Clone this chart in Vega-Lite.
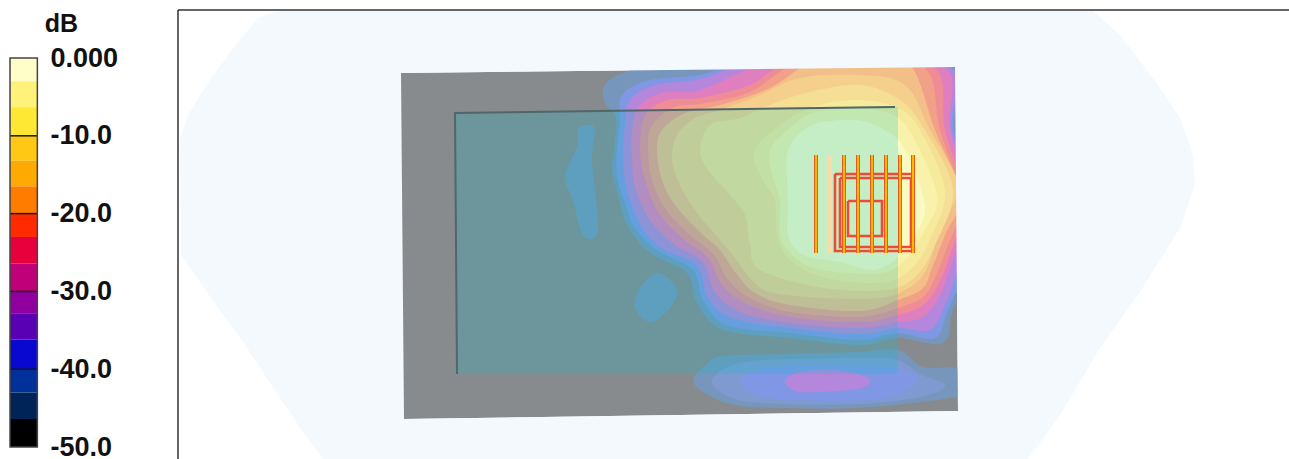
{"$schema":"https://vega.github.io/schema/vega-lite/v6.json","padding":0,"spacing":137,"bounds":"flush","background":"#ffffff","config":{"view":{"stroke":null}},
"datasets":{
"bands":[{"top":0,"bottom":-3,"c":"#fffdc8"},{"top":-3,"bottom":-6.33,"c":"#fff27a"},{"top":-6.33,"bottom":-10,"c":"#ffe833"},{"top":-10,"bottom":-13.2,"c":"#ffc814"},{"top":-13.2,"bottom":-16.5,"c":"#ffaa00"},{"top":-16.5,"bottom":-20,"c":"#ff7c00"},{"top":-20,"bottom":-23,"c":"#ff2a00"},{"top":-23,"bottom":-26.4,"c":"#e8003c"},{"top":-26.4,"bottom":-30,"c":"#c00078"},{"top":-30,"bottom":-32.8,"c":"#9000a0"},{"top":-32.8,"bottom":-36.2,"c":"#5a00b4"},{"top":-36.2,"bottom":-40,"c":"#0808d0"},{"top":-40,"bottom":-43,"c":"#00309a"},{"top":-43,"bottom":-46.4,"c":"#002458"},{"top":-46.4,"bottom":-50,"c":"#000000"}],
"base":[
{"s":"hex","b":"bg","x":278,"y":11},{"s":"hex","b":"bg","x":1093,"y":11},{"s":"hex","b":"bg","x":1120,"y":35},{"s":"hex","b":"bg","x":1153,"y":78},{"s":"hex","b":"bg","x":1180,"y":118},{"s":"hex","b":"bg","x":1193,"y":155},{"s":"hex","b":"bg","x":1195,"y":185},{"s":"hex","b":"bg","x":1180,"y":228},{"s":"hex","b":"bg","x":1140,"y":292},{"s":"hex","b":"bg","x":1100,"y":348},{"s":"hex","b":"bg","x":1060,"y":415},{"s":"hex","b":"bg","x":1028,"y":459},{"s":"hex","b":"bg","x":323,"y":459},{"s":"hex","b":"bg","x":305,"y":435},{"s":"hex","b":"bg","x":278,"y":395},{"s":"hex","b":"bg","x":245,"y":345},{"s":"hex","b":"bg","x":211,"y":298},{"s":"hex","b":"bg","x":181,"y":255},{"s":"hex","b":"bg","x":180,"y":138},{"s":"hex","b":"bg","x":188,"y":115},{"s":"hex","b":"bg","x":211,"y":78},{"s":"hex","b":"bg","x":238,"y":42},{"s":"hex","b":"bg","x":258,"y":18},
{"s":"plate","b":"plate","x":401,"y":73},{"s":"plate","b":"plate","x":955,"y":67},{"s":"plate","b":"plate","x":958,"y":411},{"s":"plate","b":"plate","x":404,"y":419}],
"contours":[
{"s":"A1","b":"b1","x":700,"y":60},{"s":"A1","b":"b1","x":640,"y":68},{"s":"A1","b":"b1","x":612,"y":78},{"s":"A1","b":"b1","x":603,"y":90},{"s":"A1","b":"b1","x":606,"y":105},{"s":"A1","b":"b1","x":616,"y":118},{"s":"A1","b":"b1","x":614,"y":150},{"s":"A1","b":"b1","x":612,"y":170},{"s":"A1","b":"b1","x":618,"y":195},{"s":"A1","b":"b1","x":627,"y":225},{"s":"A1","b":"b1","x":650,"y":253},{"s":"A1","b":"b1","x":687,"y":273},{"s":"A1","b":"b1","x":697,"y":303},{"s":"A1","b":"b1","x":723,"y":330},{"s":"A1","b":"b1","x":790,"y":338},{"s":"A1","b":"b1","x":860,"y":345},{"s":"A1","b":"b1","x":898,"y":338},{"s":"A1","b":"b1","x":943,"y":343},{"s":"A1","b":"b1","x":953,"y":310},{"s":"A1","b":"b1","x":972,"y":270},{"s":"A1","b":"b1","x":975,"y":150},{"s":"A1","b":"b1","x":970,"y":62},{"s":"A1","b":"b1","x":850,"y":55},
{"s":"A2","b":"b2","x":745,"y":62},{"s":"A2","b":"b2","x":700,"y":75},{"s":"A2","b":"b2","x":650,"y":80},{"s":"A2","b":"b2","x":622,"y":95},{"s":"A2","b":"b2","x":620,"y":120},{"s":"A2","b":"b2","x":617,"y":150},{"s":"A2","b":"b2","x":617,"y":175},{"s":"A2","b":"b2","x":624,"y":200},{"s":"A2","b":"b2","x":635,"y":228},{"s":"A2","b":"b2","x":657,"y":250},{"s":"A2","b":"b2","x":693,"y":270},{"s":"A2","b":"b2","x":703,"y":300},{"s":"A2","b":"b2","x":727,"y":325},{"s":"A2","b":"b2","x":790,"y":333},{"s":"A2","b":"b2","x":860,"y":340},{"s":"A2","b":"b2","x":898,"y":333},{"s":"A2","b":"b2","x":935,"y":338},{"s":"A2","b":"b2","x":948,"y":310},{"s":"A2","b":"b2","x":968,"y":260},{"s":"A2","b":"b2","x":972,"y":190},{"s":"A2","b":"b2","x":954,"y":130},{"s":"A2","b":"b2","x":953,"y":68},{"s":"A2","b":"b2","x":850,"y":57},
{"s":"A3","b":"b3","x":760,"y":60},{"s":"A3","b":"b3","x":700,"y":79},{"s":"A3","b":"b3","x":655,"y":85},{"s":"A3","b":"b3","x":630,"y":100},{"s":"A3","b":"b3","x":625,"y":125},{"s":"A3","b":"b3","x":623,"y":150},{"s":"A3","b":"b3","x":625,"y":180},{"s":"A3","b":"b3","x":632,"y":205},{"s":"A3","b":"b3","x":645,"y":232},{"s":"A3","b":"b3","x":665,"y":250},{"s":"A3","b":"b3","x":697,"y":265},{"s":"A3","b":"b3","x":708,"y":298},{"s":"A3","b":"b3","x":732,"y":318},{"s":"A3","b":"b3","x":790,"y":328},{"s":"A3","b":"b3","x":860,"y":334},{"s":"A3","b":"b3","x":898,"y":328},{"s":"A3","b":"b3","x":930,"y":330},{"s":"A3","b":"b3","x":945,"y":305},{"s":"A3","b":"b3","x":957,"y":270},{"s":"A3","b":"b3","x":972,"y":195},{"s":"A3","b":"b3","x":952,"y":130},{"s":"A3","b":"b3","x":950,"y":68},{"s":"A3","b":"b3","x":850,"y":58},
{"s":"A4","b":"b4","x":775,"y":60},{"s":"A4","b":"b4","x":700,"y":90},{"s":"A4","b":"b4","x":665,"y":92},{"s":"A4","b":"b4","x":640,"y":105},{"s":"A4","b":"b4","x":632,"y":130},{"s":"A4","b":"b4","x":632,"y":160},{"s":"A4","b":"b4","x":636,"y":190},{"s":"A4","b":"b4","x":650,"y":220},{"s":"A4","b":"b4","x":675,"y":245},{"s":"A4","b":"b4","x":703,"y":262},{"s":"A4","b":"b4","x":715,"y":292},{"s":"A4","b":"b4","x":740,"y":312},{"s":"A4","b":"b4","x":790,"y":323},{"s":"A4","b":"b4","x":860,"y":328},{"s":"A4","b":"b4","x":898,"y":322},{"s":"A4","b":"b4","x":923,"y":317},{"s":"A4","b":"b4","x":940,"y":295},{"s":"A4","b":"b4","x":952,"y":262},{"s":"A4","b":"b4","x":970,"y":200},{"s":"A4","b":"b4","x":950,"y":130},{"s":"A4","b":"b4","x":945,"y":68},{"s":"A4","b":"b4","x":850,"y":58},
{"s":"A5","b":"b5","x":790,"y":62},{"s":"A5","b":"b5","x":750,"y":85},{"s":"A5","b":"b5","x":700,"y":98},{"s":"A5","b":"b5","x":668,"y":100},{"s":"A5","b":"b5","x":645,"y":115},{"s":"A5","b":"b5","x":640,"y":150},{"s":"A5","b":"b5","x":645,"y":180},{"s":"A5","b":"b5","x":658,"y":212},{"s":"A5","b":"b5","x":682,"y":238},{"s":"A5","b":"b5","x":708,"y":258},{"s":"A5","b":"b5","x":722,"y":285},{"s":"A5","b":"b5","x":745,"y":303},{"s":"A5","b":"b5","x":790,"y":317},{"s":"A5","b":"b5","x":860,"y":322},{"s":"A5","b":"b5","x":898,"y":315},{"s":"A5","b":"b5","x":923,"y":305},{"s":"A5","b":"b5","x":938,"y":285},{"s":"A5","b":"b5","x":950,"y":255},{"s":"A5","b":"b5","x":965,"y":200},{"s":"A5","b":"b5","x":945,"y":130},{"s":"A5","b":"b5","x":935,"y":68},{"s":"A5","b":"b5","x":860,"y":58},
{"s":"A6","b":"b6","x":797,"y":63},{"s":"A6","b":"b6","x":750,"y":92},{"s":"A6","b":"b6","x":700,"y":104},{"s":"A6","b":"b6","x":675,"y":107},{"s":"A6","b":"b6","x":652,"y":125},{"s":"A6","b":"b6","x":648,"y":150},{"s":"A6","b":"b6","x":652,"y":180},{"s":"A6","b":"b6","x":666,"y":210},{"s":"A6","b":"b6","x":690,"y":235},{"s":"A6","b":"b6","x":714,"y":255},{"s":"A6","b":"b6","x":728,"y":280},{"s":"A6","b":"b6","x":750,"y":298},{"s":"A6","b":"b6","x":790,"y":312},{"s":"A6","b":"b6","x":860,"y":317},{"s":"A6","b":"b6","x":898,"y":308},{"s":"A6","b":"b6","x":923,"y":297},{"s":"A6","b":"b6","x":935,"y":278},{"s":"A6","b":"b6","x":948,"y":245},{"s":"A6","b":"b6","x":962,"y":200},{"s":"A6","b":"b6","x":940,"y":130},{"s":"A6","b":"b6","x":925,"y":68},{"s":"A6","b":"b6","x":860,"y":60},
{"s":"A7","b":"b7","x":812,"y":62},{"s":"A7","b":"b7","x":770,"y":88},{"s":"A7","b":"b7","x":720,"y":105},{"s":"A7","b":"b7","x":685,"y":113},{"s":"A7","b":"b7","x":662,"y":130},{"s":"A7","b":"b7","x":657,"y":150},{"s":"A7","b":"b7","x":662,"y":180},{"s":"A7","b":"b7","x":675,"y":205},{"s":"A7","b":"b7","x":700,"y":232},{"s":"A7","b":"b7","x":720,"y":250},{"s":"A7","b":"b7","x":735,"y":272},{"s":"A7","b":"b7","x":755,"y":293},{"s":"A7","b":"b7","x":790,"y":305},{"s":"A7","b":"b7","x":860,"y":311},{"s":"A7","b":"b7","x":898,"y":300},{"s":"A7","b":"b7","x":923,"y":288},{"s":"A7","b":"b7","x":932,"y":268},{"s":"A7","b":"b7","x":945,"y":235},{"s":"A7","b":"b7","x":960,"y":195},{"s":"A7","b":"b7","x":935,"y":130},{"s":"A7","b":"b7","x":908,"y":62},{"s":"A7","b":"b7","x":860,"y":58},
{"s":"A8","b":"b8","x":860,"y":75},{"s":"A8","b":"b8","x":800,"y":78},{"s":"A8","b":"b8","x":760,"y":95},{"s":"A8","b":"b8","x":720,"y":110},{"s":"A8","b":"b8","x":695,"y":118},{"s":"A8","b":"b8","x":677,"y":135},{"s":"A8","b":"b8","x":672,"y":160},{"s":"A8","b":"b8","x":680,"y":185},{"s":"A8","b":"b8","x":695,"y":210},{"s":"A8","b":"b8","x":720,"y":240},{"s":"A8","b":"b8","x":735,"y":258},{"s":"A8","b":"b8","x":750,"y":278},{"s":"A8","b":"b8","x":770,"y":292},{"s":"A8","b":"b8","x":823,"y":298},{"s":"A8","b":"b8","x":880,"y":298},{"s":"A8","b":"b8","x":905,"y":290},{"s":"A8","b":"b8","x":925,"y":272},{"s":"A8","b":"b8","x":942,"y":225},{"s":"A8","b":"b8","x":958,"y":185},{"s":"A8","b":"b8","x":930,"y":130},{"s":"A8","b":"b8","x":905,"y":85},
{"s":"A9","b":"b9","x":860,"y":85},{"s":"A9","b":"b9","x":810,"y":92},{"s":"A9","b":"b9","x":770,"y":105},{"s":"A9","b":"b9","x":740,"y":118},{"s":"A9","b":"b9","x":710,"y":125},{"s":"A9","b":"b9","x":700,"y":150},{"s":"A9","b":"b9","x":708,"y":170},{"s":"A9","b":"b9","x":730,"y":195},{"s":"A9","b":"b9","x":745,"y":215},{"s":"A9","b":"b9","x":750,"y":245},{"s":"A9","b":"b9","x":760,"y":270},{"s":"A9","b":"b9","x":823,"y":288},{"s":"A9","b":"b9","x":885,"y":290},{"s":"A9","b":"b9","x":915,"y":277},{"s":"A9","b":"b9","x":935,"y":245},{"s":"A9","b":"b9","x":953,"y":190},{"s":"A9","b":"b9","x":925,"y":130},{"s":"A9","b":"b9","x":900,"y":100},
{"s":"A10","b":"b10","x":860,"y":100},{"s":"A10","b":"b10","x":815,"y":106},{"s":"A10","b":"b10","x":780,"y":125},{"s":"A10","b":"b10","x":755,"y":150},{"s":"A10","b":"b10","x":760,"y":175},{"s":"A10","b":"b10","x":775,"y":200},{"s":"A10","b":"b10","x":777,"y":235},{"s":"A10","b":"b10","x":790,"y":260},{"s":"A10","b":"b10","x":823,"y":277},{"s":"A10","b":"b10","x":880,"y":283},{"s":"A10","b":"b10","x":912,"y":268},{"s":"A10","b":"b10","x":932,"y":235},{"s":"A10","b":"b10","x":945,"y":190},{"s":"A10","b":"b10","x":920,"y":130},{"s":"A10","b":"b10","x":898,"y":108},
{"s":"A11","b":"b11","x":860,"y":108},{"s":"A11","b":"b11","x":815,"y":112},{"s":"A11","b":"b11","x":790,"y":128},{"s":"A11","b":"b11","x":770,"y":150},{"s":"A11","b":"b11","x":772,"y":175},{"s":"A11","b":"b11","x":780,"y":200},{"s":"A11","b":"b11","x":780,"y":235},{"s":"A11","b":"b11","x":795,"y":258},{"s":"A11","b":"b11","x":823,"y":270},{"s":"A11","b":"b11","x":880,"y":273},{"s":"A11","b":"b11","x":905,"y":260},{"s":"A11","b":"b11","x":925,"y":230},{"s":"A11","b":"b11","x":937,"y":195},{"s":"A11","b":"b11","x":912,"y":135},{"s":"A11","b":"b11","x":893,"y":115},
{"s":"A12","b":"b12","x":855,"y":120},{"s":"A12","b":"b12","x":815,"y":124},{"s":"A12","b":"b12","x":795,"y":138},{"s":"A12","b":"b12","x":787,"y":155},{"s":"A12","b":"b12","x":787,"y":180},{"s":"A12","b":"b12","x":788,"y":210},{"s":"A12","b":"b12","x":788,"y":235},{"s":"A12","b":"b12","x":803,"y":255},{"s":"A12","b":"b12","x":840,"y":262},{"s":"A12","b":"b12","x":873,"y":270},{"s":"A12","b":"b12","x":898,"y":258},{"s":"A12","b":"b12","x":915,"y":235},{"s":"A12","b":"b12","x":925,"y":205},{"s":"A12","b":"b12","x":905,"y":150},{"s":"A12","b":"b12","x":885,"y":130},
{"s":"C1","b":"b1","x":693,"y":381},{"s":"C1","b":"b1","x":705,"y":366},{"s":"C1","b":"b1","x":723,"y":356},{"s":"C1","b":"b1","x":790,"y":354},{"s":"C1","b":"b1","x":857,"y":352},{"s":"C1","b":"b1","x":898,"y":350},{"s":"C1","b":"b1","x":923,"y":367},{"s":"C1","b":"b1","x":957,"y":368},{"s":"C1","b":"b1","x":975,"y":380},{"s":"C1","b":"b1","x":965,"y":393},{"s":"C1","b":"b1","x":937,"y":400},{"s":"C1","b":"b1","x":857,"y":408},{"s":"C1","b":"b1","x":780,"y":408},{"s":"C1","b":"b1","x":735,"y":405},{"s":"C1","b":"b1","x":708,"y":395},
{"s":"C2","b":"c2","x":712,"y":382},{"s":"C2","b":"c2","x":722,"y":370},{"s":"C2","b":"c2","x":745,"y":362},{"s":"C2","b":"c2","x":790,"y":359},{"s":"C2","b":"c2","x":860,"y":358},{"s":"C2","b":"c2","x":898,"y":360},{"s":"C2","b":"c2","x":920,"y":374},{"s":"C2","b":"c2","x":945,"y":385},{"s":"C2","b":"c2","x":925,"y":396},{"s":"C2","b":"c2","x":860,"y":404},{"s":"C2","b":"c2","x":760,"y":403},{"s":"C2","b":"c2","x":725,"y":395},
{"s":"C3","b":"b2","x":741,"y":381},{"s":"C3","b":"b2","x":750,"y":372},{"s":"C3","b":"b2","x":775,"y":367},{"s":"C3","b":"b2","x":860,"y":366},{"s":"C3","b":"b2","x":905,"y":370},{"s":"C3","b":"b2","x":916,"y":382},{"s":"C3","b":"b2","x":880,"y":399},{"s":"C3","b":"b2","x":790,"y":400},{"s":"C3","b":"b2","x":752,"y":393},
{"s":"C4","b":"b3","x":785,"y":381},{"s":"C4","b":"b3","x":800,"y":372},{"s":"C4","b":"b3","x":835,"y":370},{"s":"C4","b":"b3","x":868,"y":378},{"s":"C4","b":"b3","x":862,"y":388},{"s":"C4","b":"b3","x":820,"y":392},{"s":"C4","b":"b3","x":795,"y":391},
{"s":"D1","b":"b1","x":587,"y":125},{"s":"D1","b":"b1","x":595,"y":130},{"s":"D1","b":"b1","x":592,"y":160},{"s":"D1","b":"b1","x":598,"y":230},{"s":"D1","b":"b1","x":583,"y":235},{"s":"D1","b":"b1","x":573,"y":200},{"s":"D1","b":"b1","x":565,"y":177},{"s":"D1","b":"b1","x":577,"y":147},{"s":"D1","b":"b1","x":578,"y":130},
{"s":"D2","b":"b1","x":658,"y":273},{"s":"D2","b":"b1","x":677,"y":290},{"s":"D2","b":"b1","x":668,"y":310},{"s":"D2","b":"b1","x":650,"y":322},{"s":"D2","b":"b1","x":635,"y":308},{"s":"D2","b":"b1","x":640,"y":288}],
"mask":[
{"s":"M1","b":"bg","x":401,"y":73},{"s":"M1","b":"bg","x":955,"y":67},{"s":"M1","b":"bg","x":995,"y":67},{"s":"M1","b":"bg","x":995,"y":35},{"s":"M1","b":"bg","x":401,"y":35},
{"s":"M2","b":"bg","x":955,"y":67},{"s":"M2","b":"bg","x":958,"y":411},{"s":"M2","b":"bg","x":995,"y":411},{"s":"M2","b":"bg","x":995,"y":67},
{"s":"M3","b":"bg","x":404,"y":419},{"s":"M3","b":"bg","x":958,"y":411},{"s":"M3","b":"bg","x":995,"y":411},{"s":"M3","b":"bg","x":995,"y":435},{"s":"M3","b":"bg","x":404,"y":435}],
"inner":[{"x":454,"y":113},{"x":898,"y":107},{"x":898,"y":374},{"x":456,"y":374}],
"edges":[{"s":"top","x":454,"y":113},{"s":"top","x":895,"y":107},{"s":"left","x":455,"y":113},{"s":"left","x":457,"y":374}],
"frame":[{"x":178,"x2":1289,"y":10,"y2":10},{"x":178,"x2":178,"y":10,"y2":459}],
"wire":[
{"s":"R1","x":835,"y":174},{"s":"R1","x":913,"y":174},{"s":"R1","x":913,"y":251},{"s":"R1","x":835,"y":251},{"s":"R1","x":835,"y":174},
{"s":"R2","x":840,"y":178},{"s":"R2","x":911,"y":178},{"s":"R2","x":911,"y":247},{"s":"R2","x":840,"y":247},{"s":"R2","x":840,"y":178},
{"s":"R3","x":848,"y":201},{"s":"R3","x":882,"y":201},{"s":"R3","x":882,"y":236},{"s":"R3","x":848,"y":236},{"s":"R3","x":848,"y":201}],
"bars":[{"x":816,"y":155,"y2":253},{"x":844,"y":155,"y2":253},{"x":858,"y":155,"y2":253},{"x":872,"y":155,"y2":253},{"x":886,"y":155,"y2":253},{"x":900,"y":155,"y2":253},{"x":913,"y":155,"y2":253}],
"pale":[{"x":830,"y":155,"y2":253}]
},
"hconcat":[
{"width":41,"height":459,"layer":[
{"data":{"name":"bands"},"mark":{"type":"rect"},"encoding":{"x":{"datum":11,"type":"quantitative","scale":{"domain":[0,41]},"axis":null},"x2":{"datum":41},"y":{"field":"top","type":"quantitative","scale":{"domain":[-51.54,7.455],"nice":false,"zero":false},"axis":{"orient":"right","values":[0,-10,-20,-30,-40,-50],"labelExpr":"datum.value==0?'0.000':'-'+format(-datum.value,'.1f')","ticks":false,"domain":false,"grid":false,"labelPadding":9,"labelFont":"Liberation Sans","labelFontWeight":"bold","labelFontSize":27,"labelColor":"#111111","labelBaseline":"middle","labelLimit":0,"labelOverlap":false,"title":"dB","titleFont":"Liberation Sans","titleFontWeight":"bold","titleFontSize":25,"titleColor":"#111111","titleAngle":0,"titleX":20,"titleY":36,"titleAlign":"center"}},"y2":{"field":"bottom"},"fill":{"field":"c","type":"nominal","scale":null}}},
{"data":{"values":[{"v":-10},{"v":-20},{"v":-30},{"v":-40}]},"mark":{"type":"rule","stroke":"#151515","strokeWidth":1.5},"encoding":{"x":{"datum":11,"type":"quantitative"},"x2":{"datum":41},"y":{"field":"v","type":"quantitative"}}},
{"data":{"values":[{"a":0,"b":-50}]},"mark":{"type":"rect","fill":null,"stroke":"#444444","strokeWidth":1.5},"encoding":{"x":{"datum":11,"type":"quantitative"},"x2":{"datum":41},"y":{"field":"a","type":"quantitative"},"y2":{"field":"b"}}}
]},
{"width":1111,"height":459,
"encoding":{"x":{"field":"x","type":"quantitative","scale":{"domain":[178,1289],"nice":false,"zero":false},"axis":null},"y":{"field":"y","type":"quantitative","scale":{"domain":[0,459],"reverse":true,"nice":false,"zero":false},"axis":null}},
"layer":[
{"data":{"name":"base"},"mark":{"type":"line","filled":true,"order":null,"strokeWidth":0},"encoding":{"detail":{"field":"s"},"fill":{"field":"b","type":"nominal","legend":null,"scale":{"domain":["bg","plate","b1","c2","b2","b3","b4","b5","b6","b7","b8","b9","b10","b11","b12"],"range":["#f4f9fd","#888b8e","#7796bc","#7e9ad0","#8097e5","#b487dc","#e07fbf","#ee8d96","#f2a088","#f3bf88","#f4d08c","#f5df94","#f6ea9c","#f8f2aa","#fafac4"]}}}},
{"data":{"name":"contours"},"mark":{"type":"line","filled":true,"order":null,"interpolate":"cardinal-closed","strokeWidth":0},"encoding":{"detail":{"field":"s"},"fill":{"field":"b","type":"nominal","legend":null}}},
{"data":{"name":"mask"},"mark":{"type":"line","filled":true,"order":null,"strokeWidth":0},"encoding":{"detail":{"field":"s"},"fill":{"field":"b","type":"nominal","legend":null}}},
{"data":{"name":"inner"},"mark":{"type":"line","filled":true,"order":null,"strokeWidth":0,"fill":"#09c1cd","fillOpacity":0.22}},
{"data":{"name":"edges"},"mark":{"type":"line","order":null,"stroke":"#4f666b","strokeWidth":2},"encoding":{"detail":{"field":"s"}}},
{"data":{"name":"frame"},"mark":{"type":"rule","stroke":"#333333","strokeWidth":1.5},"encoding":{"x2":{"field":"x2"},"y2":{"field":"y2"}}},
{"data":{"name":"wire"},"mark":{"type":"line","order":null,"stroke":"#ee4b35","strokeWidth":2.6},"encoding":{"detail":{"field":"s"}}},
{"data":{"name":"pale"},"mark":{"type":"rule","stroke":"#fbdca8","strokeWidth":4},"encoding":{"y2":{"field":"y2"}}},
{"data":{"name":"bars"},"mark":{"type":"rule","stroke":"#e8402a","strokeWidth":4},"encoding":{"y2":{"field":"y2"}}},
{"data":{"name":"bars"},"mark":{"type":"rule","stroke":"#ffb800","strokeWidth":2.4},"encoding":{"y2":{"field":"y2"}}}
]}
]}
